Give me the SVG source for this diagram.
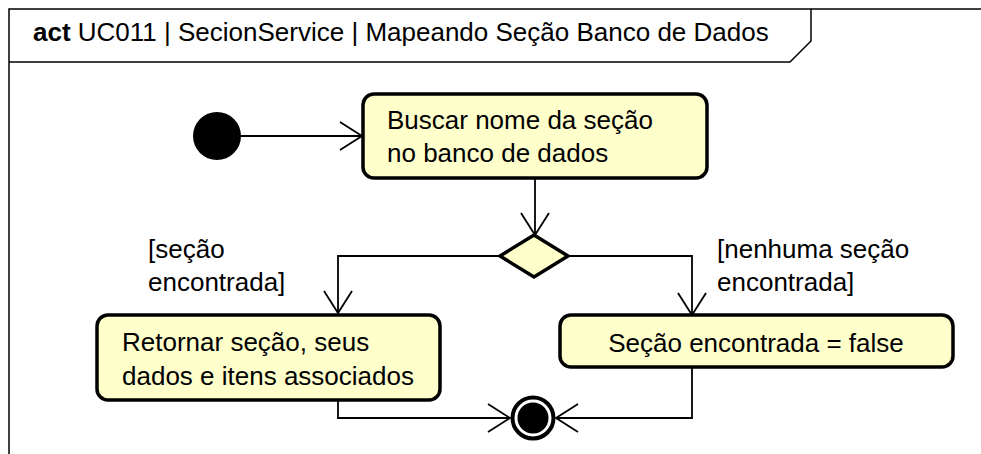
<svg xmlns="http://www.w3.org/2000/svg" width="981" height="454" viewBox="0 0 981 454">
<defs>
<style>
text{font-family:"Liberation Sans",Arial,sans-serif;font-size:26px;fill:#000}
.act{fill:#ffffcc;stroke:#000;stroke-width:3.5}
.ln{fill:none;stroke:#000;stroke-width:1.8}
.frame{fill:none;stroke:#000;stroke-width:1.5}
</style>
<marker id="arr" markerUnits="userSpaceOnUse" markerWidth="30" markerHeight="34" refX="23" refY="15" orient="auto">
<path d="M1,1 L23,15 L1,29" fill="none" stroke="#000" stroke-width="1.8"/>
</marker>
</defs>
<rect width="981" height="454" fill="#fff"/>
<g id="frame">
<path class="frame" d="M9,454 L9,9 L981,9"/>
<path class="frame" d="M9,62 L790,62 L811,41 L811,9"/>
<text x="33" y="41"><tspan font-weight="bold">act</tspan> UC011 | SecionService | Mapeando Seção Banco de Dados</text>
</g>
<g id="connectors">
<path class="ln" d="M241,136 L362,136" marker-end="url(#arr)"/>
<path class="ln" d="M535,178 L535,235" marker-end="url(#arr)"/>
<path class="ln" d="M500,256 L338,256 L338,313" marker-end="url(#arr)"/>
<path class="ln" d="M568,256 L692,256 L692,315" marker-end="url(#arr)"/>
<path class="ln" d="M338,400 L338,418 L510,418" marker-end="url(#arr)"/>
<path class="ln" d="M692,367 L692,418 L556,418" marker-end="url(#arr)"/>
<text x="148" y="258">[seção</text>
<text x="148" y="291">encontrada]</text>
<text x="717" y="258">[nenhuma seção</text>
<text x="717" y="291">encontrada]</text>
</g>
<g id="initial">
<circle cx="217" cy="136" r="24" fill="#000"/>
</g>
<g id="buscar">
<rect class="act" x="363" y="94" width="344" height="84" rx="11"/>
<text x="387" y="129">Buscar nome da seção</text>
<text x="387" y="162">no banco de dados</text>
</g>
<g id="decision">
<path class="act" d="M534,235 L568,256 L534,277 L500,256 Z"/>
</g>
<g id="retornar">
<rect class="act" x="97" y="315" width="343" height="85" rx="11"/>
<text x="122" y="351">Retornar seção, seus</text>
<text x="122" y="385">dados e itens associados</text>
</g>
<g id="falso">
<rect class="act" x="560" y="315" width="393" height="52" rx="11"/>
<text x="756" y="352" text-anchor="middle">Seção encontrada = false</text>
</g>
<g id="final">
<circle cx="533" cy="418" r="20.5" fill="#fff" stroke="#000" stroke-width="4"/>
<circle cx="533" cy="418" r="15.5" fill="#000"/>
</g>
</svg>
